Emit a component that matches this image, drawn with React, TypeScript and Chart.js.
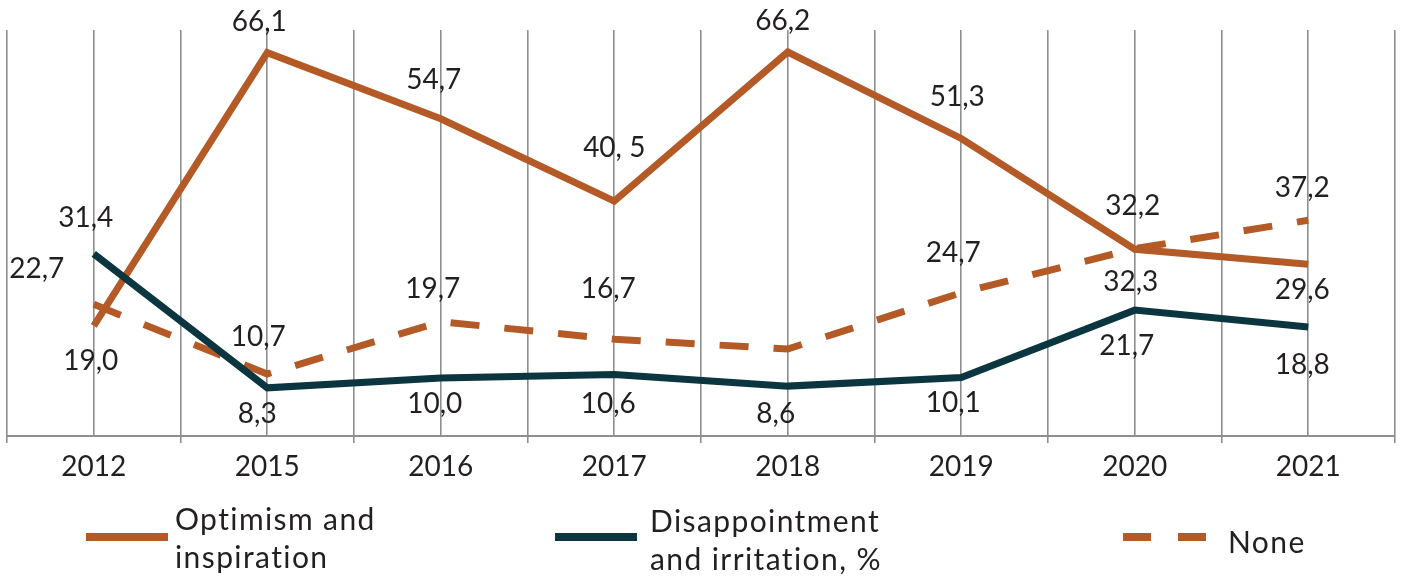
import React, { useEffect, useRef } from "react";
import { Chart, registerables } from "chart.js";

Chart.register(...registerables);

const years = ["2012", "2015", "2016", "2017", "2018", "2019", "2020", "2021"];
const optimism = [19.0, 66.1, 54.7, 40.5, 66.2, 51.3, 32.2, 29.6];
const disappointment = [31.4, 8.3, 10.0, 10.6, 8.6, 10.1, 21.7, 18.8];
const noneValues = [22.7, 10.7, 19.7, 16.7, 15.0, 24.7, 32.3, 37.2];

const optimismLabels = ["19,0", "66,1", "54,7", "40, 5", "66,2", "51,3", "32,2", "29,6"];
const disappointmentLabels = ["31,4", "8,3", "10,0", "10,6", "8,6", "10,1", "21,7", "18,8"];
const noneLabels = ["22,7", "10,7", "19,7", "16,7", "", "24,7", "32,3", "37,2"];

const seriesNames = [["Optimism and", "inspiration"], ["Disappointment", "and irritation, %"], ["None"]];

// label nudges (dx, dy) relative to point
const optimismNudge = [[-3, 35], [-8, -31], [-7, -39], [0, -53], [-5, -31], [-4, -41], [-2, -43], [-6, 26]];
const disappointmentNudge = [[-8, -36], [-10, 26], [-6, 26], [-6, 29], [-12, 28], [-8, 26], [-8, 36], [-6, 38]];
const noneNudge = [[-57, -35], [-9, -37], [-8, -33], [-6, -50], [0, 0], [-8, -40], [-4, 33], [-6, -32]];

const ORANGE = "#B35A27";
const TEAL = "#0B3640";
const GRID = "#8E8E8E";
const TEXT = "#231F20";
const FONT = "Lato";

const labelPlugin = {
  id: "valueLabels",
  afterDatasetsDraw(chart: any) {
    const ctx = chart.ctx;
    const sets = [
      { labels: optimismLabels, nudge: optimismNudge },
      { labels: disappointmentLabels, nudge: disappointmentNudge },
      { labels: noneLabels, nudge: noneNudge },
    ];
    ctx.save();
    ctx.fillStyle = TEXT;
    ctx.font = `28px ${FONT}`;
    ctx.textAlign = "center";
    ctx.textBaseline = "middle";
    sets.forEach((s, i) => {
      const meta = chart.getDatasetMeta(i);
      meta.data.forEach((el: any, j: number) => {
        const t = s.labels[j];
        if (!t) return;
        ctx.fillText(t, el.x + s.nudge[j][0], el.y + s.nudge[j][1]);
      });
    });
    ctx.restore();
  },
};

const legendPlugin = {
  id: "customLegend",
  afterDraw(chart: any) {
    const ctx = chart.ctx;
    ctx.save();
    ctx.lineWidth = 8;
    ctx.lineCap = "butt";
    ctx.strokeStyle = ORANGE;
    ctx.beginPath();
    ctx.moveTo(86, 537);
    ctx.lineTo(168, 537);
    ctx.stroke();
    ctx.strokeStyle = TEAL;
    ctx.beginPath();
    ctx.moveTo(555, 537);
    ctx.lineTo(637, 537);
    ctx.stroke();
    ctx.strokeStyle = ORANGE;
    ctx.beginPath();
    ctx.moveTo(1123, 537);
    ctx.lineTo(1151, 537);
    ctx.moveTo(1178, 537);
    ctx.lineTo(1206, 537);
    ctx.stroke();

    ctx.fillStyle = TEXT;
    ctx.font = `30px ${FONT}`;
    try {
      (ctx as any).letterSpacing = "1.4px";
    } catch (e) {}
    ctx.textAlign = "left";
    ctx.textBaseline = "alphabetic";
    ctx.fillText(seriesNames[0][0], 175, 530);
    ctx.fillText(seriesNames[0][1], 175, 568);
    ctx.fillText(seriesNames[1][0], 650, 532);
    ctx.fillText(seriesNames[1][1], 650, 570);
    ctx.fillText(seriesNames[2][0], 1228, 553);
    ctx.restore();
  },
};

export default function App() {
  const ref = useRef<HTMLCanvasElement | null>(null);

  useEffect(() => {
    document.body.style.margin = "0";
    const toPts = (arr: number[]) => arr.map((y, i) => ({ x: i, y }));
    const chart = new Chart(ref.current as HTMLCanvasElement, {
      type: "line",
      data: {
        datasets: [
          {
            label: "Optimism and inspiration",
            data: toPts(optimism),
            borderColor: ORANGE,
            borderWidth: 7,
            pointRadius: 0,
            tension: 0,
            borderJoinStyle: "miter",
            order: 2,
          },
          {
            label: "Disappointment and irritation, %",
            data: toPts(disappointment),
            borderColor: TEAL,
            borderWidth: 7,
            pointRadius: 0,
            tension: 0,
            borderJoinStyle: "miter",
            order: 1,
          },
          {
            label: "None",
            data: toPts(noneValues),
            borderColor: ORANGE,
            borderWidth: 7,
            borderDash: [29, 25],
            pointRadius: 0,
            tension: 0,
            borderJoinStyle: "miter",
            order: 3,
          },
        ],
      },
      options: {
        animation: false,
        responsive: false,
        maintainAspectRatio: false,
        layout: { padding: { left: 7, right: 6, top: 30, bottom: 0 } },
        plugins: { legend: { display: false }, tooltip: { enabled: false } },
        scales: {
          x: {
            type: "linear",
            min: -0.5,
            max: 7.5,
            afterFit: (scale: any) => {
              scale.height = 142;
            },
            afterBuildTicks: (scale: any) => {
              const t = [];
              for (let v = -0.5; v <= 7.5; v += 0.5) t.push({ value: v });
              scale.ticks = t;
            },
            ticks: {
              autoSkip: false,
              maxRotation: 0,
              padding: 7,
              color: TEXT,
              font: { family: FONT, size: 28 },
              callback: (v: any) => (Number.isInteger(v) ? years[v] : ""),
            },
            grid: {
              color: GRID,
              lineWidth: 1.6,
              tickLength: 7,
              tickColor: (c: any) => (c.tick && Number.isInteger(c.tick.value) ? "rgba(0,0,0,0)" : GRID),
              tickWidth: 1.6,
            },
            border: { color: GRID, width: 2 },
          },
          y: {
            display: false,
            min: 0,
            max: 70,
          },
        },
      },
      plugins: [labelPlugin, legendPlugin],
    } as any);
    return () => chart.destroy();
  }, []);

  return (
    <div style={{ width: 1402, height: 578 }}>
      <canvas ref={ref} width={1402} height={578} style={{ display: "block" }} />
    </div>
  );
}
